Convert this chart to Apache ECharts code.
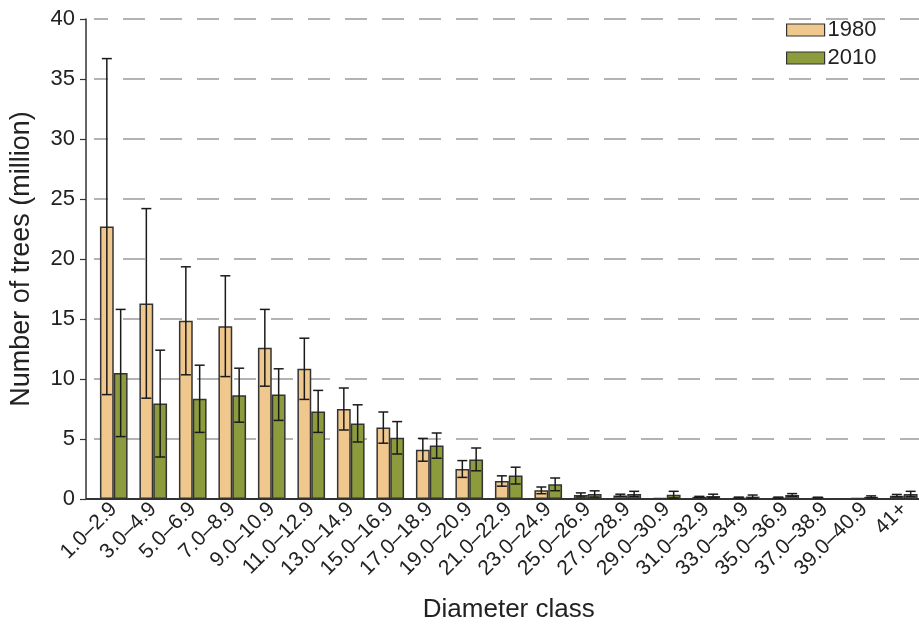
<!DOCTYPE html>
<html>
<head>
<meta charset="utf-8">
<script src="https://cdn.jsdelivr.net/npm/echarts@6/dist/echarts.min.js"></script>
<style>html,body{margin:0;padding:0;background:#fff}#c{width:919px;height:630px}</style>
</head>
<body>
<div id="c"></div>
<script>
const categories = ['1.0–2.9','3.0–4.9','5.0–6.9','7.0–8.9','9.0–10.9','11.0–12.9','13.0–14.9','15.0–16.9','17.0–18.9','19.0–20.9','21.0–22.9','23.0–24.9','25.0–26.9','27.0–28.9','29.0–30.9','31.0–32.9','33.0–34.9','35.0–36.9','37.0–38.9','39.0–40.9','41+'];
const values1980 = [22.7, 16.3, 14.85, 14.4, 12.6, 10.85, 7.5, 5.95, 4.1, 2.5, 1.5, 0.72, 0.34, 0.3, 0.08, 0.18, 0.12, 0.12, 0.12, 0.08, 0.28];
const err1980    = [14.0, 7.9, 4.5, 4.2, 3.2, 2.55, 1.75, 1.3, 0.95, 0.7, 0.43, 0.28, 0.17, 0.1, 0, 0.04, 0.04, 0.04, 0.03, 0, 0.1];
const values2010 = [10.5, 7.95, 8.35, 8.65, 8.7, 7.3, 6.3, 5.1, 4.45, 3.3, 1.95, 1.22, 0.42, 0.42, 0.36, 0.25, 0.2, 0.33, 0, 0.18, 0.42];
const err2010    = [5.3, 4.45, 2.8, 2.25, 2.15, 1.75, 1.55, 1.35, 1.05, 0.95, 0.7, 0.53, 0.26, 0.22, 0.28, 0.15, 0.13, 0.12, 0, 0.08, 0.22];
const yTicks = {min: 0, max: 40, interval: 5};

const FONT = '"Liberation Sans", Arial, Helvetica, sans-serif';
const C1980 = '#F0C88E', C2010 = '#8C9C3C';
const GAP = 0.30;

function errData(vals, errs) {
  return vals.map((v, i) => [i, v - errs[i], v + errs[i]]).filter((d, i) => errs[i] > 0);
}
function errRender(side) {
  return function (params, api) {
    const i = api.value(0);
    const band = api.size([1, 0])[0];
    const bw = band * (1 - GAP) / 2;
    const lo = api.coord([i, api.value(1)]);
    const hi = api.coord([i, api.value(2)]);
    const x = lo[0] + side * bw / 2;
    const cw = 5;
    const st = {stroke: '#1a1a1a', lineWidth: 1.5};
    return {type: 'group', children: [
      {type: 'line', shape: {x1: x, y1: lo[1], x2: x, y2: hi[1]}, style: st},
      {type: 'line', shape: {x1: x - cw, y1: hi[1], x2: x + cw, y2: hi[1]}, style: st},
      {type: 'line', shape: {x1: x - cw, y1: lo[1], x2: x + cw, y2: lo[1]}, style: st}
    ]};
  };
}

const chart = echarts.init(document.getElementById('c'), null, {renderer: 'canvas'});
const option = {
  animation: false,
  backgroundColor: '#fff',
  textStyle: {fontFamily: FONT},
  grid: {left: 94, right: -4.5, top: 19, bottom: 131, containLabel: false, outerBoundsMode: 'none'},
  legend: {
    orient: 'vertical', left: 786, top: 18, itemWidth: 38, itemHeight: 12, itemGap: 4, padding: 0,
    textStyle: {fontFamily: FONT, fontSize: 22, lineHeight: 24, color: '#222', padding: [0, 0, 0, -2]},
    data: [
      {name: '1980', icon: 'rect', itemStyle: {color: C1980, borderColor: '#333', borderWidth: 1.2}},
      {name: '2010', icon: 'rect', itemStyle: {color: C2010, borderColor: '#333', borderWidth: 1.2}}
    ]
  },
  xAxis: {
    type: 'category', data: categories,
    name: 'Diameter class', nameLocation: 'middle', nameGap: 98,
    nameTextStyle: {fontFamily: FONT, fontSize: 26, color: '#222'},
    axisLine: {lineStyle: {color: '#333', width: 2}},
    axisTick: {show: false},
    axisLabel: {rotate: 45, fontSize: 21, color: '#222', fontFamily: FONT, margin: 7, interval: 0}
  },
  yAxis: {
    type: 'value', min: yTicks.min, max: yTicks.max, interval: yTicks.interval, offset: 8,
    name: 'Number of trees (million)', nameLocation: 'middle', nameGap: 51,
    nameTextStyle: {fontFamily: FONT, fontSize: 27, color: '#222'},
    axisLine: {show: true, lineStyle: {color: '#333', width: 1.5}},
    axisTick: {show: true, length: 6, lineStyle: {color: '#333', width: 1.2}},
    axisLabel: {fontSize: 22, color: '#222', fontFamily: FONT, margin: 11},
    splitLine: {show: true, lineStyle: {color: '#9a9a9a', width: 1.5, type: [22, 15], dashOffset: 8}}
  },
  series: [
    {name: '1980', type: 'bar', data: values1980, barGap: '0%', barCategoryGap: (GAP * 100) + '%',
     itemStyle: {color: C1980, borderColor: '#333', borderWidth: 1.5}},
    {name: '2010', type: 'bar', data: values2010, barGap: '0%', barCategoryGap: (GAP * 100) + '%',
     itemStyle: {color: C2010, borderColor: '#333', borderWidth: 1.5}},
    {type: 'custom', renderItem: errRender(-1), data: errData(values1980, err1980), z: 5, encode: {x: 0, y: [1, 2]}, silent: true},
    {type: 'custom', renderItem: errRender(1), data: errData(values2010, err2010), z: 5, encode: {x: 0, y: [1, 2]}, silent: true}
  ],
  graphic: [
    {type: 'line', shape: {x1: 86, y1: 499, x2: 95, y2: 499}, style: {stroke: '#333', lineWidth: 2}, z: 10}
  ]
};
chart.setOption(option);
</script>
</body>
</html>
